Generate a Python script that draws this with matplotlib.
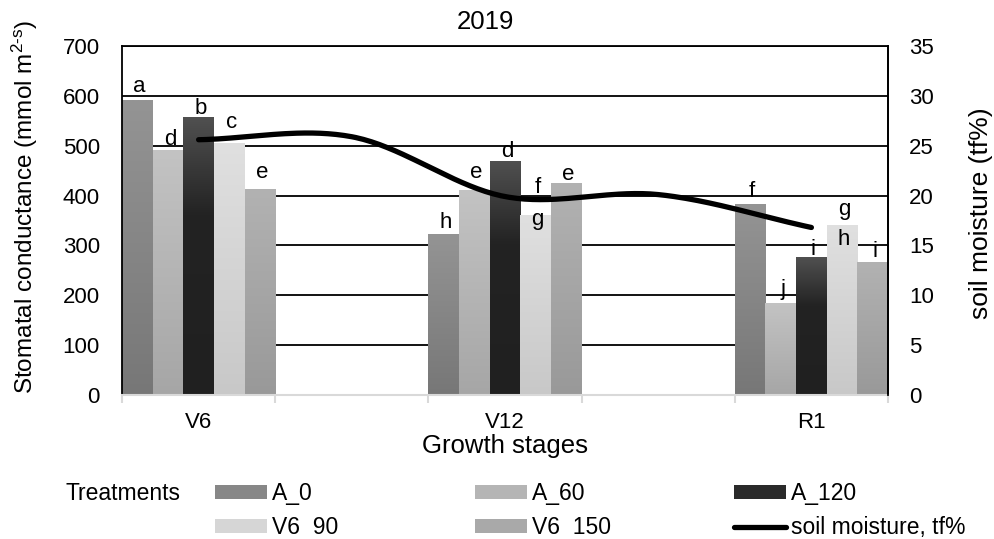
import numpy as np
import matplotlib
matplotlib.use("Agg")
import matplotlib.pyplot as plt
from matplotlib.colors import LinearSegmentedColormap

plt.rcParams['font.family'] = ['Liberation Sans', 'DejaVu Sans']
plt.rcParams['mathtext.fontset'] = 'custom'
plt.rcParams['mathtext.rm'] = 'Liberation Sans'
plt.rcParams['mathtext.default'] = 'regular'

# data
xcats = ['V6', '', 'V12', '', 'R1']
stages = ['V6', 'V12', 'R1']
treatments = ['A_0', 'A_60', 'A_120', 'V6  90', 'V6  150']
a0 = [590, 321, 383]
a60 = [490, 411, 184]
a120 = [557, 469, 275]
v6_90 = [505, 361, 339]
v6_150 = [413, 425, 265]
soil_moisture = [25.6, 25.9, 19.9, 20.1, 16.8]

let_a0 = ['a', 'h', 'f']
let_a60 = ['d', 'e', 'j']
let_a120 = ['b', 'd', 'i']
let_v90 = ['c', 'f', 'g']
let_v150 = ['e', 'e', 'i']
let_v90_inner = ['', 'g', 'h']

# styles
grads = [['#777777', '#949494'],
         ['#a6a6a6', '#c3c3c3'],
         ['#202020', '#232323', '#505050'],
         ['#c8c8c8', '#e0e0e0'],
         ['#999999', '#b2b2b2']]
solid = ['#878787', '#b5b5b5', '#2a2a2a', '#d6d6d6', '#a9a9a9']
# label offsets above bar top (pixels)
offs = [[9, 7, 7], [6, 12, 8], [3, 4, 3], [15, 22, 11], [11, 3, 6]]
inner_offs = [0, -10, -19]

fig = plt.figure(figsize=(9.95, 5.39), dpi=100)
ax = fig.add_axes([122/995, 1-395/539, 766/995, 349/539])

series = [a0, a60, a120, v6_90, v6_150]
letters = [let_a0, let_a60, let_a120, let_v90, let_v150]
pos = np.array([xcats.index(s) for s in stages])
w = 0.2
for i, vals in enumerate(series):
    xs = pos + (i - 2) * w
    bars = ax.bar(xs, vals, width=w, color=solid[i], label=treatments[i], zorder=1)
    cols = grads[i]
    if len(cols) == 3:
        cmap = LinearSegmentedColormap.from_list('g', [(0, cols[0]), (0.65, cols[1]), (1, cols[2])])
    else:
        cmap = LinearSegmentedColormap.from_list('g', cols)
    for b in bars:
        x0 = b.get_x()
        h = b.get_height()
        ax.imshow(np.linspace(0, 1, 256).reshape(-1, 1), extent=[x0, x0 + w, 0, h],
                  origin='lower', cmap=cmap, aspect='auto', zorder=1.1)
    for j, b in enumerate(bars):
        ax.annotate(letters[i][j], (b.get_x() + w/2, b.get_height()),
                    xytext=(1.5, offs[i][j]*0.72), textcoords='offset points',
                    ha='center', va='baseline', fontsize=16, zorder=3)
        if i == 3 and let_v90_inner[j]:
            ax.annotate(let_v90_inner[j], (b.get_x() + w/2, b.get_height()),
                        xytext=(1.5, inner_offs[j]*0.72), textcoords='offset points',
                        ha='center', va='baseline', fontsize=16, zorder=3)

ax.set_xlim(-0.5, 4.5)
ax.set_ylim(0, 700)
ax.set_yticks(np.arange(0, 701, 100))
ax.set_xticks(range(len(xcats)))
ax.set_xticklabels(xcats)
ax.set_xticks(np.arange(-0.5, 4.6, 1), minor=True)
ax.tick_params(axis='x', which='major', length=0, pad=12, labelsize=16)
ax.tick_params(axis='x', which='minor', length=6, width=1.5, color='#d9d9d9')
ax.tick_params(axis='y', length=0, pad=16, labelsize=16)
ax.yaxis.grid(True, color='black', lw=1.3)
ax.set_axisbelow(True)
ax.spines['bottom'].set_color('#d9d9d9')
ax.spines['bottom'].set_linewidth(1.5)
for s in ['left', 'right', 'top']:
    ax.spines[s].set_color('black')
    ax.spines[s].set_linewidth(1.3)
ax.set_xlabel('Growth stages', fontsize=18.5, labelpad=1)
ax.set_ylabel(r'Stomatal conductance (mmol m$^{\text{2-s}}$)', fontsize=17.5, va='center')
ax.yaxis.set_label_coords(-0.1266, 0.54)

# soil moisture on secondary axis, smoothed like Excel
ax2 = ax.twinx()
xp = np.arange(len(soil_moisture), dtype=float)
yp = np.array(soil_moisture)
m = np.gradient(yp, xp)
xs_l, ys_l = [], []
for k in range(len(xp) - 1):
    t = np.linspace(0, 1, 40)
    h00 = 2*t**3 - 3*t**2 + 1
    h10 = t**3 - 2*t**2 + t
    h01 = -2*t**3 + 3*t**2
    h11 = t**3 - t**2
    xs_l.append(xp[k] + t)
    ys_l.append(h00*yp[k] + h10*m[k] + h01*yp[k+1] + h11*m[k+1])
ax2.plot(np.concatenate(xs_l), np.concatenate(ys_l), color='black', lw=3.8,
         solid_capstyle='round', label='soil moisture, tf%')
ax2.set_ylim(0, 35)
ax2.set_yticks(np.arange(0, 36, 5))
ax2.tick_params(axis='y', length=0, pad=15, labelsize=16)
for s in ['left', 'top', 'bottom']:
    ax2.spines[s].set_visible(False)
ax2.spines['right'].set_color('black')
ax2.spines['right'].set_linewidth(1.3)
ax2.set_ylabel('soil moisture (tf%)', fontsize=19, rotation=90, va='center')
ax2.yaxis.set_label_coords(1 + (981-888)/766, 0.52)

fig.text(485/995, 1-22/539, '2019', ha='center', va='center', fontsize=18.5)

# legend
handles, labels = ax.get_legend_handles_labels()
lh, ll = ax2.get_legend_handles_labels()
handles += lh
labels += ll
order = [[0, 3], [1, 4], [2, 5]]
colx = [215/995, 475/995, 734/995]
for c in range(3):
    leg = fig.legend([handles[k] for k in order[c]], [labels[k] for k in order[c]],
                     loc='upper left', bbox_to_anchor=(colx[c], 1-482/539),
                     frameon=False, fontsize=16.5, ncol=1, borderpad=0, borderaxespad=0,
                     handlelength=2.27, handleheight=0.57, handletextpad=0.2, labelspacing=0.5)
fig.text(66/995, 1-494/539, 'Treatments', ha='left', va='center', fontsize=16.5)

fig.savefig('out.png', dpi=100)
